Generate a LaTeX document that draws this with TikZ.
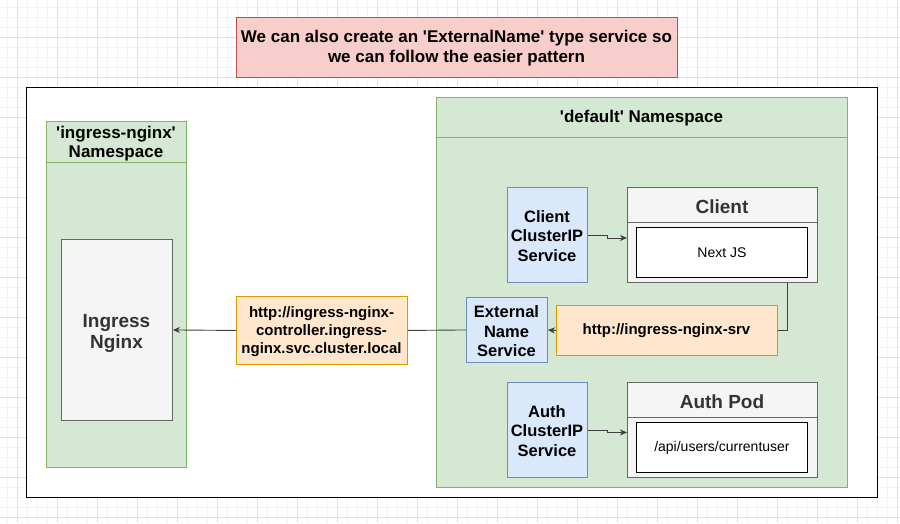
\documentclass[tikz,border=0pt]{standalone}
\usepackage{fontspec}
\setmainfont{Liberation Sans}[Ligatures=TeXOff]
\usetikzlibrary{arrows.meta,calc}
\definecolor{pinkF}{HTML}{F8CECC}\definecolor{pinkD}{HTML}{B85450}
\definecolor{greenF}{HTML}{D5E8D4}\definecolor{greenD}{HTML}{82B366}
\definecolor{blueF}{HTML}{DAE8FC}\definecolor{blueD}{HTML}{6C8EBF}
\definecolor{orangeF}{HTML}{FFE6CC}\definecolor{orangeD}{HTML}{D79B00}
\definecolor{grayF}{HTML}{F5F5F5}\definecolor{grayD}{HTML}{666666}
\definecolor{grayT}{HTML}{333333}
\definecolor{gridMinor}{HTML}{F3F3F3}\definecolor{gridMajor}{HTML}{E0E0E0}
\begin{document}
\begin{tikzpicture}[x=1pt,y=-1pt,
  box/.style={draw, anchor=north west, inner sep=0pt, align=center, line width=0.9pt},
  pinkbox/.style={box, fill=pinkF, draw=pinkD},
  greenbox/.style={box, fill=greenF, draw=greenD},
  bluebox/.style={box, fill=blueF, draw=blueD, minimum width=80pt},
  orangebox/.style={box, fill=orangeF, draw=orangeD},
  graybox/.style={box, fill=grayF, draw=grayD, text=grayT},
  innerbox/.style={box, fill=white, draw=black, minimum width=171pt, minimum height=50pt, font=\fontsize{14}{17}\selectfont},
  txt/.style={inner sep=0pt, align=center},
  title/.style={txt, font=\fontsize{17}{19}\selectfont\bfseries},
  svctext/.style={txt, font=\fontsize{16.5}{19.5}\selectfont\bfseries},
  urltext/.style={txt, font=\fontsize{15}{18}\selectfont\bfseries},
  podtitle/.style={txt, text=grayT, font=\fontsize{19}{22}\selectfont\bfseries},
  conn/.style={draw=black!75, line width=0.9pt},
  arr/.style={conn, -{Stealth[length=7pt,width=6pt,inset=2pt]}}
]
\useasboundingbox (0,0) rectangle (900,523);
\fill[white] (0,0) rectangle (900,523);
% grid
\foreach \x in {7,17,...,897} \draw[gridMinor, line width=0.6pt] (\x,0) -- (\x,523);
\foreach \y in {7,17,...,517} \draw[gridMinor, line width=0.6pt] (0,\y) -- (900,\y);
\foreach \x in {17,57,...,897} \draw[gridMajor, line width=0.7pt] (\x,0) -- (\x,523);
\foreach \y in {37,77,...,517} \draw[gridMajor, line width=0.7pt] (0,\y) -- (900,\y);

% banner
\node[pinkbox, minimum width=441pt, minimum height=60pt] (banner) at (236,17) {};
\node[txt, font=\fontsize{17}{20}\selectfont\bfseries] (bannert) at (456.5,48)
  {We can also create an 'ExternalName' type service so\\we can follow the easier pattern};

% outer frame
\node[box, fill=white, draw=black, line width=1.3pt, minimum width=851pt, minimum height=410pt] (outer) at (26,87) {};

% ingress-nginx namespace
\node[greenbox, minimum width=140pt, minimum height=346pt] (ns1) at (46,121) {};
\draw[greenD, line width=0.9pt] ($(ns1.north west)+(0,41)$) -- ($(ns1.north east)+(0,41)$);
\node[title] (ns1t) at (116,144) {'ingress-nginx'\\Namespace};
\node[graybox, minimum width=111pt, minimum height=181pt] (ing) at (61,239) {};
\node[txt, text=grayT, font=\fontsize{19}{21}\selectfont\bfseries] (ingt) at (116.5,333) {Ingress\\Nginx};

% default namespace
\node[greenbox, minimum width=411pt, minimum height=390pt] (ns2) at (436,97) {};
\draw[greenD, line width=0.9pt] ($(ns2.north west)+(0,40)$) -- ($(ns2.north east)+(0,40)$);
\node[title] (ns2t) at (641.5,118.5) {'default' Namespace};

% client
\node[bluebox, minimum height=95pt] (csvc) at (507,187) {};
\node[svctext] (csvct) at (547,236) {Client\\ClusterIP\\Service};
\node[graybox, minimum width=190pt, minimum height=95pt] (cpod) at (627,187) {};
\draw[grayD, line width=0.9pt] ($(cpod.north west)+(0,35)$) -- ($(cpod.north east)+(0,35)$);
\node[podtitle] (cpodt) at (722,206.5) {Client};
\node[innerbox] (next) at (636,227) {Next JS};

% external name
\node[bluebox, minimum width=81pt, minimum height=65pt] (ext) at (466,297) {};
\node[svctext] (extt) at (506.5,331.5) {External\\Name\\Service};
\node[orangebox, minimum width=221pt, minimum height=50pt] (or2) at (556,305) {};
\node[urltext] (or2t) at (666.5,331) {http://ingress-nginx-srv};
\node[orangebox, minimum width=171pt, minimum height=68pt] (or1) at (236,296) {};
\node[urltext] (or1t) at (321.5,332) {http://ingress-nginx-\\controller.ingress-\\nginx.svc.cluster.local};

% auth
\node[bluebox, minimum height=95pt] (asvc) at (507,382) {};
\node[svctext] (asvct) at (547,431) {Auth\\ClusterIP\\Service};
\node[graybox, minimum width=190pt, minimum height=95pt] (apod) at (627,382) {};
\draw[grayD, line width=0.9pt] ($(apod.north west)+(0,35)$) -- ($(apod.north east)+(0,35)$);
\node[podtitle] (apodt) at (722,401.5) {Auth Pod};
\node[innerbox] (api) at (636,422) {/api/users/currentuser};

% connectors
\draw[arr] (csvc.east) -- ++(20,0) |- ($(cpod.west)+(0,3)$);
\draw[arr] (asvc.east) -- ++(20,0) |- ($(apod.west)+(0,2.5)$);
\draw[conn] ($(cpod.south east)+(-30,0)$) |- (or2.east);
\draw[arr] (or2.west) -- (ext.east);
\draw[conn] (ext.west) -- (or1.east);
\draw[arr] (or1.west) -- (ing.east);
\end{tikzpicture}
\end{document}
